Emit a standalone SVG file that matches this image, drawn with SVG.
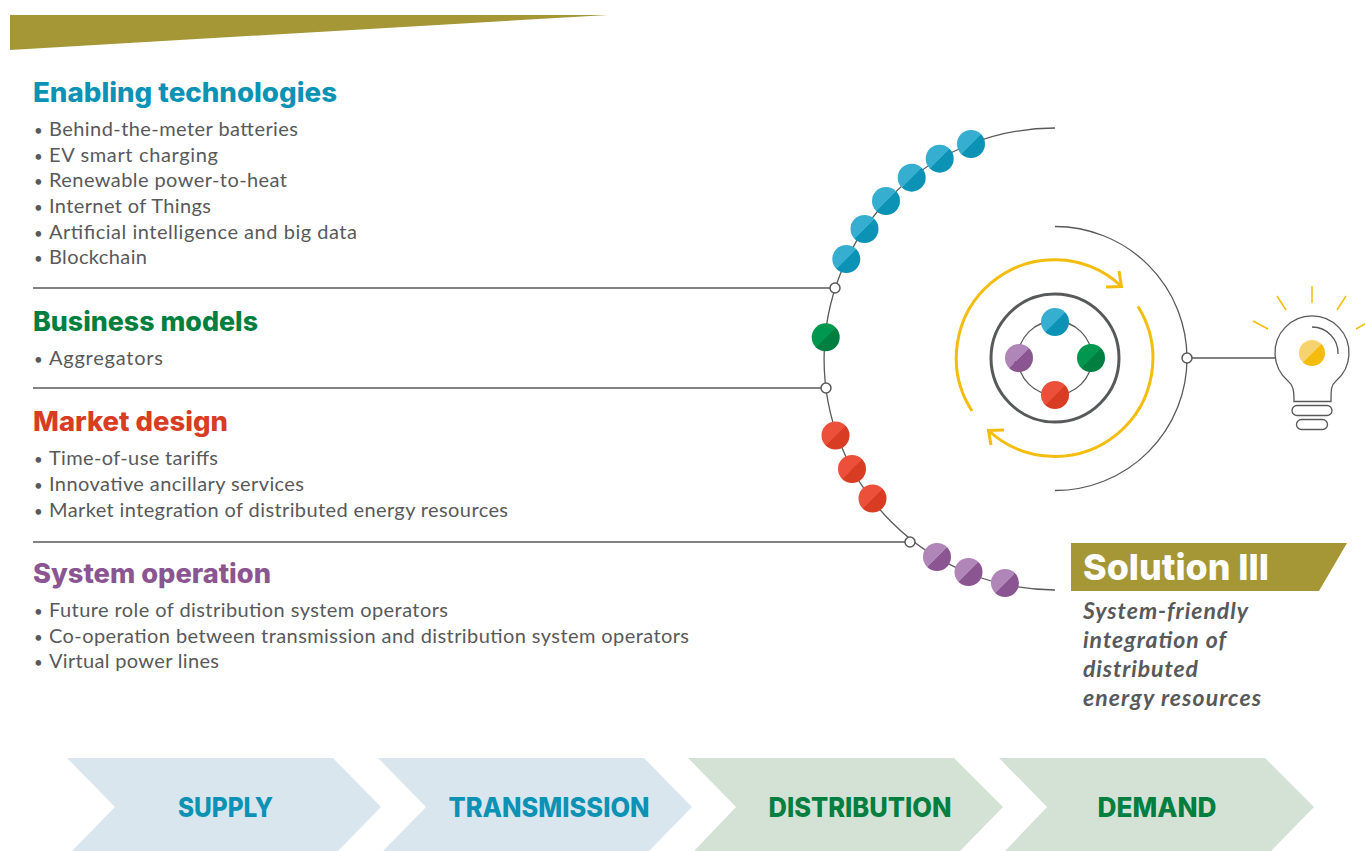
<svg xmlns="http://www.w3.org/2000/svg" width="1365" height="851" viewBox="0 0 1365 851">
<style>
text{font-family:"Lato","Liberation Sans",sans-serif}
.b{font-size:20px;fill:#58595b}
.d{font-size:15px}
.h{font-size:26.500px;font-weight:800;font-family:"Inter","Liberation Sans",sans-serif}
.c{font-size:27px;font-weight:800;text-anchor:middle;font-family:"Inter","Liberation Sans",sans-serif}
.s{font-size:23px;font-weight:700;font-style:italic;fill:#58595b}
.w{fill:none;stroke:#58595b;stroke-width:1.300}
.r{fill:none;stroke:#f4bd0e;stroke-width:3}
.n{fill:#fff;stroke:#58595b;stroke-width:1.500}
.blue{fill:url(#gb)}.green{fill:url(#gg)}.red{fill:url(#gr)}.pur{fill:url(#gp)}
</style>
<defs>
<linearGradient id="gb" x1="0" y1="0" x2="1" y2="1"><stop offset=".5" stop-color="#35aed0"/><stop offset=".5" stop-color="#0b92b5"/></linearGradient>
<linearGradient id="gg" x1="0" y1="0" x2="1" y2="1"><stop offset=".5" stop-color="#00974e"/><stop offset=".5" stop-color="#007f40"/></linearGradient>
<linearGradient id="gr" x1="0" y1="0" x2="1" y2="1"><stop offset=".5" stop-color="#ec503b"/><stop offset=".5" stop-color="#d83c23"/></linearGradient>
<linearGradient id="gp" x1="0" y1="0" x2="1" y2="1"><stop offset=".5" stop-color="#b085b8"/><stop offset=".5" stop-color="#8b5591"/></linearGradient>
<linearGradient id="gy" x1="0" y1="0" x2="1" y2="1"><stop offset=".5" stop-color="#f7d36f"/><stop offset=".5" stop-color="#f4bd0e"/></linearGradient>
</defs>
<polygon id="banner" points="10,15 608,15 10,50" fill="#a59735"/>

<g id="connectors">
<path class="w" d="M1055 128A231 231 0 0 0 1055 590"/>
<path class="w" d="M1055 226.500A132 132 0 1 1 1055 490.500"/>
<path class="w" d="M33 288H830M33 388H821M33 542H905M1192 358H1275"/>
</g>

<g id="enabling">
<text class="h" x="33" y="102" fill="#0b92b5" textLength="304" lengthAdjust="spacingAndGlyphs">Enabling technologies</text>
<text class="b" x="34" y="136"><tspan class="d">•</tspan><tspan x="49" textLength="249">Behind-the-meter batteries</tspan></text>
<text class="b" x="34" y="162"><tspan class="d">•</tspan><tspan x="49" textLength="169">EV smart charging</tspan></text>
<text class="b" x="34" y="187"><tspan class="d">•</tspan><tspan x="49" textLength="238">Renewable power-to-heat</tspan></text>
<text class="b" x="34" y="213"><tspan class="d">•</tspan><tspan x="49" textLength="162">Internet of Things</tspan></text>
<text class="b" x="34" y="239"><tspan class="d">•</tspan><tspan x="49" textLength="308">Artificial intelligence and big data</tspan></text>
<text class="b" x="34" y="264"><tspan class="d">•</tspan><tspan x="49" textLength="98">Blockchain</tspan></text>
</g>
<g id="business">
<text class="h" x="33" y="331" fill="#007f40" textLength="225" lengthAdjust="spacingAndGlyphs">Business models</text>
<text class="b" x="34" y="365"><tspan class="d">•</tspan><tspan x="49" textLength="114">Aggregators</tspan></text>
</g>
<g id="market">
<text class="h" x="33" y="431" fill="#d83c23" textLength="195" lengthAdjust="spacingAndGlyphs">Market design</text>
<text class="b" x="34" y="465"><tspan class="d">•</tspan><tspan x="49" textLength="169">Time-of-use tariffs</tspan></text>
<text class="b" x="34" y="491"><tspan class="d">•</tspan><tspan x="49" textLength="255">Innovative ancillary services</tspan></text>
<text class="b" x="34" y="517"><tspan class="d">•</tspan><tspan x="49" textLength="459">Market integration of distributed energy resources</tspan></text>
</g>
<g id="system">
<text class="h" x="33" y="583" fill="#8b5591" textLength="238" lengthAdjust="spacingAndGlyphs">System operation</text>
<text class="b" x="34" y="617"><tspan class="d">•</tspan><tspan x="49" textLength="399">Future role of distribution system operators</tspan></text>
<text class="b" x="34" y="643"><tspan class="d">•</tspan><tspan x="49" textLength="640">Co-operation between transmission and distribution system operators</tspan></text>
<text class="b" x="34" y="668"><tspan class="d">•</tspan><tspan x="49" textLength="170">Virtual power lines</tspan></text>
</g>

<g id="beads">
<circle class="blue" cx="971" cy="144" r="14"/><circle class="blue" cx="939.700" cy="158.700" r="14"/><circle class="blue" cx="911.700" cy="177.700" r="14"/><circle class="blue" cx="886" cy="201" r="14"/><circle class="blue" cx="864.500" cy="229" r="14"/><circle class="blue" cx="846.300" cy="259" r="14"/>
<circle class="green" cx="825.700" cy="337.300" r="14"/>
<circle class="red" cx="835.500" cy="435.500" r="14"/><circle class="red" cx="852" cy="469" r="14"/><circle class="red" cx="872.500" cy="498.500" r="14"/>
<circle class="pur" cx="937" cy="557" r="14"/><circle class="pur" cx="968.500" cy="572" r="14"/><circle class="pur" cx="1005" cy="583" r="14"/>
</g>
<g id="joints">
<circle class="n" cx="835" cy="288" r="5"/><circle class="n" cx="826" cy="388" r="5"/><circle class="n" cx="910" cy="542" r="5"/><circle class="n" cx="1187" cy="358" r="5"/>
</g>

<g id="cycle">
<path class="r" d="M972 411A98 98 0 0 1 1121 286M1119 271L1121.500 286.500L1106 287"/>
<path class="r" d="M1138 306.500A98 98 0 0 1 988.500 430.500M1004 430L988.500 430.500L991 445"/>
<circle cx="1055" cy="358" r="64" fill="none" stroke="#58595b" stroke-width="3"/>
<circle class="w" cx="1055" cy="358" r="37"/>
<circle class="blue" cx="1055" cy="322" r="14"/><circle class="green" cx="1091" cy="358" r="14"/><circle class="red" cx="1055" cy="395" r="14"/><circle class="pur" cx="1019" cy="358" r="14"/>
</g>

<g id="bulb">
<path class="w" d="M1294 401.500C1294 390 1293 385 1288 381A37 37 0 1 1 1336 381C1331 385 1331 390 1331 401.500Z"/>
<rect class="w" x="1292" y="405.500" width="40" height="10" rx="5"/>
<rect class="w" x="1296.500" y="419.500" width="31" height="10" rx="5"/>
<path class="w" d="M1312 327A26 26 0 0 1 1338 354"/>
<circle cx="1312" cy="353" r="13" fill="url(#gy)"/>
<path fill="none" stroke="#f4bd0e" stroke-width="1.500" d="M1312 286V303M1277 296L1286 310M1346 296L1337 310M1253 321L1268 329M1365 324L1356 329"/>
</g>

<g id="solution">
<polygon points="1071,543 1347,543 1319,591 1071,591" fill="#a59735"/>
<text x="1083" y="580" font-size="36" font-weight="800" fill="#fff" style="font-family:Inter,'Liberation Sans',sans-serif" textLength="186" lengthAdjust="spacingAndGlyphs">Solution III</text>
<text class="s" x="1083" y="619" textLength="165">System-friendly</text>
<text class="s" x="1083" y="648" textLength="143">integration of</text>
<text class="s" x="1083" y="677" textLength="115">distributed</text>
<text class="s" x="1083" y="706" textLength="178">energy resources</text>
</g>

<g id="chain">
<g id="supply"><polygon points="67,758 333,758 381,807 338,851 72,851 115,807" fill="#dae6ee"/><text class="c" x="225.500" y="817" fill="#0b92b5" textLength="95" lengthAdjust="spacingAndGlyphs">SUPPLY</text></g>
<g id="transmission"><polygon points="378,758 644,758 692,807 649,851 383,851 426,807" fill="#dae6ee"/><text class="c" x="549" y="817" fill="#0b92b5" textLength="201" lengthAdjust="spacingAndGlyphs">TRANSMISSION</text></g>
<g id="distribution"><polygon points="688,758 954,758 1003,807 960,851 694,851 736,807" fill="#d4e2d6"/><text class="c" x="860" y="817" fill="#007f40" textLength="183" lengthAdjust="spacingAndGlyphs">DISTRIBUTION</text></g>
<g id="demand"><polygon points="999,758 1265,758 1314,807 1271,851 1005,851 1047,807" fill="#d4e2d6"/><text class="c" x="1157" y="817" fill="#007f40" textLength="119" lengthAdjust="spacingAndGlyphs">DEMAND</text></g>
</g>
</svg>
